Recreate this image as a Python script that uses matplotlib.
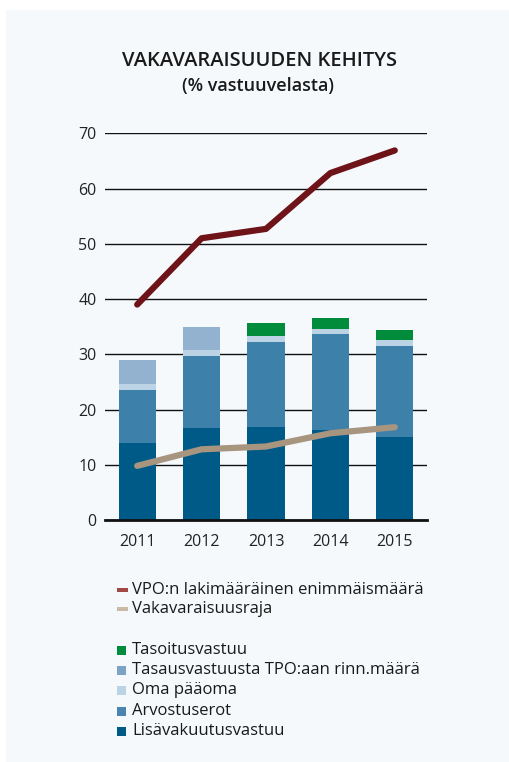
import numpy as np
import matplotlib.pyplot as plt
from matplotlib.patches import Rectangle

plt.rcParams['font.family'] = ['Open Sans', 'DejaVu Sans']

# Data (% vastuuvelasta)
years = ['2011', '2012', '2013', '2014', '2015']
lisavakuutusvastuu = [14.0, 16.6, 16.8, 16.3, 15.0]
arvostuserot = [9.5, 13.1, 15.4, 17.4, 16.5]
oma_paaoma = [1.1, 1.1, 1.1, 0.9, 1.1]
tasausvastuusta = [4.4, 4.1, 0.0, 0.0, 0.0]
tasoitusvastuu = [0.0, 0.0, 2.4, 2.0, 1.8]
vpo_enimmais = [39.0, 51.0, 52.7, 62.8, 66.9]
vakavaraisuusraja = [9.8, 12.8, 13.3, 15.7, 16.8]

bg = '#f5f9fc'
c_lisa = '#005a87'
c_arvo = '#3d80aa'
c_oma = '#bcd3e5'
c_tasaus = '#92b2cf'
c_tasoitus = '#008c3a'
c_vpo = '#6e1419'
c_raja = '#a89580'

fig = plt.figure(figsize=(5.09, 7.62), dpi=100)
fig.patch.set_facecolor('white')
fig.patches.append(Rectangle((6 / 509, 0), 1, 1 - 10 / 762, transform=fig.transFigure,
                             facecolor=bg, edgecolor='none', zorder=-10))

ax = fig.add_axes([105 / 509, 1 - 520 / 762, 322 / 509, (520 - 133.3) / 762])
ax.set_facecolor(bg)
ax.patch.set_alpha(0)

x = np.arange(len(years))
w = 0.58
series = [
    (lisavakuutusvastuu, c_lisa),
    (arvostuserot, c_arvo),
    (oma_paaoma, c_oma),
    (tasausvastuusta, c_tasaus),
    (tasoitusvastuu, c_tasoitus),
]
bottom = np.zeros(len(years))
for vals, col in series:
    vals = np.array(vals)
    ax.bar(x, vals, w, bottom=bottom, color=col, zorder=3)
    bottom += vals

ax.plot(x, vpo_enimmais, color=c_vpo, lw=4.5, solid_capstyle='round', zorder=4)
ax.plot(x, vakavaraisuusraja, color=c_raja, lw=4.5, solid_capstyle='round', zorder=4)

ax.set_xlim(-0.5, 4.5)
ax.set_ylim(0, 70)
ax.set_yticks(range(0, 71, 10))
ax.set_xticks(x)
ax.set_xticklabels(years)
ax.yaxis.grid(True, color='#111111', lw=1.0, zorder=1)
for sp in ax.spines.values():
    sp.set_visible(False)
ax.axhline(0, color='#111111', lw=2, zorder=5, clip_on=False)
ax.tick_params(length=0, labelsize=11.5, colors='#222222', pad=6)
ax.tick_params(axis='x', pad=10)

fig.text(260 / 509, 1 - 61 / 762, 'VAKAVARAISUUDEN KEHITYS', ha='center', va='center',
         fontsize=14.5, fontweight='semibold', color='#1a1a1a')
fig.text(258 / 509, 1 - 86 / 762, '(% vastuuvelasta)', ha='center', va='center',
         fontsize=13, fontweight='semibold', color='#1a1a1a')

# legend
line_items = [('VPO:n lakimääräinen enimmäismäärä', '#a14a45', 590),
              ('Vakavaraisuusraja', '#c9b9a7', 609)]
box_items = [('Tasoitusvastuu', c_tasoitus, 650),
             ('Tasausvastuusta TPO:aan rinn.määrä', '#7aa3c6', 670),
             ('Oma pääoma', c_oma, 690),
             ('Arvostuserot', '#4a84b0', 711),
             ('Lisävakuutusvastuu', c_lisa, 731)]
for label, col, yp in line_items:
    fig.patches.append(Rectangle((117 / 509, 1 - (yp + 2) / 762), 11 / 509, 4 / 762,
                                 transform=fig.transFigure, facecolor=col, edgecolor='none'))
    fig.text(132 / 509, 1 - yp / 762, label, ha='left', va='center', fontsize=12, color='#1a1a1a')
for label, col, yp in box_items:
    fig.patches.append(Rectangle((117 / 509, 1 - (yp + 4.5) / 762), 9 / 509, 9 / 762,
                                 transform=fig.transFigure, facecolor=col, edgecolor='none'))
    fig.text(132 / 509, 1 - yp / 762, label, ha='left', va='center', fontsize=12, color='#1a1a1a')

fig.savefig('out.png', dpi=100, facecolor=fig.get_facecolor())
